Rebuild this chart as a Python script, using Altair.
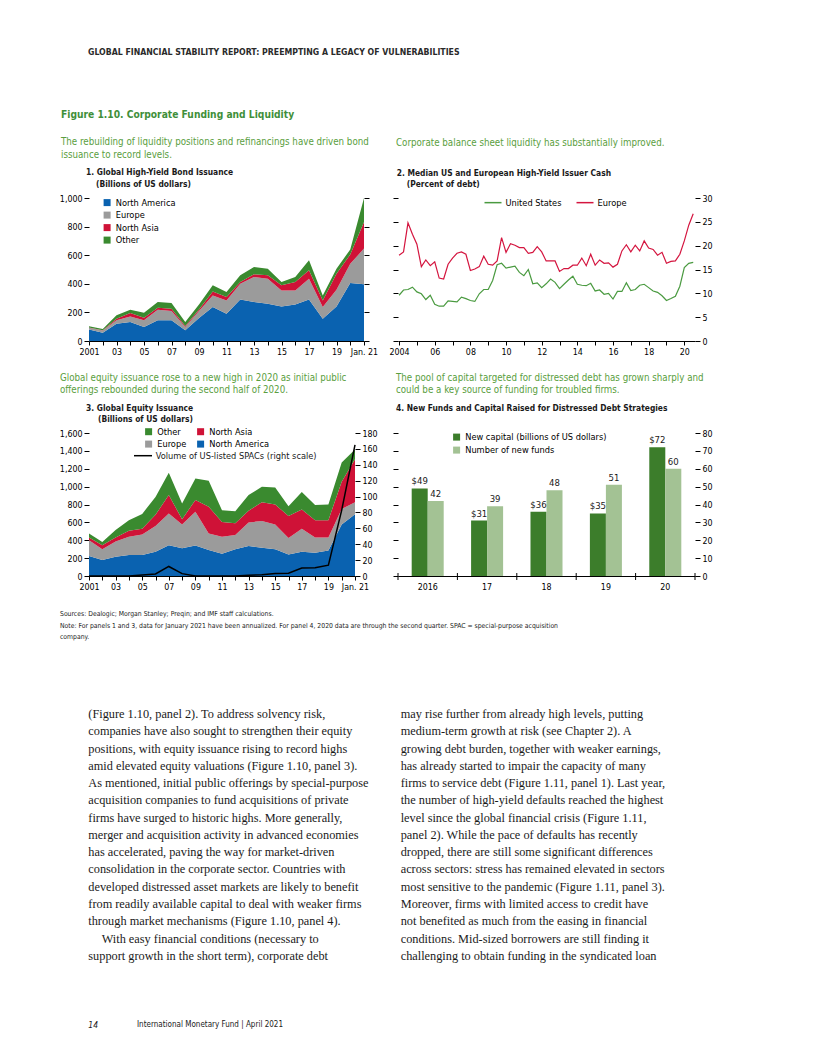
import altair as alt
import pandas as pd

SANS = "DejaVu Sans Condensed, Liberation Sans Narrow, sans-serif"
SERIF = "Liberation Serif, Times New Roman, serif"
GREEN_T = "#3f8f3a"
GREEN_S = "#5a9e40"
INK = "#1a1a1a"

# ---------------- Panel 1: Global High-Yield Bond Issuance ----------------
p1_years = list(range(2001, 2022))
p1_tick_labels = ["2001", "", "03", "", "05", "", "07", "", "09", "", "11", "", "13", "", "15", "", "17", "", "19", "", "Jan. 21"]
p1_regions = ["North America", "Europe", "North Asia", "Other"]
p1_colors = ["#0a62b0", "#9b9b9b", "#cf1237", "#3a8a2f"]
p1_na = [80, 58, 121, 133, 98, 145, 145, 75, 160, 238, 191, 291, 273, 261, 242, 256, 291, 156, 242, 405, 396]
p1_eu = [12, 15, 24, 39, 47, 74, 65, 23, 50, 81, 93, 110, 175, 175, 112, 98, 145, 82, 117, 135, 250]
p1_as = [3, 3, 11, 24, 18, 14, 16, 7, 10, 28, 24, 12, 18, 23, 35, 59, 58, 46, 112, 65, 186]
p1_ot = [8, 8, 24, 23, 35, 40, 40, 28, 35, 42, 35, 46, 51, 47, 24, 35, 70, 35, 35, 35, 168]

# ---------------- Panel 2: Median HY issuer cash (quarterly) ----------------
p2_tick_years = list(range(2004, 2021))
p2_tick_labels = ["2004", "", "06", "", "08", "", "10", "", "12", "", "14", "", "16", "", "18", "", "20"]
p2_series = ["United States", "Europe"]
p2_colors = ["#4a9a40", "#d4153f"]
p2_us = [9.6, 10.7, 10.8, 11.3, 10.3, 9.9, 8.7, 9.6, 7.7, 7.3, 7.3, 8.4, 8.3, 8.2, 9.2, 8.9,
         8.5, 8.3, 9.9, 10.8, 10.8, 12.7, 16.0, 16.3, 15.3, 15.5, 15.7, 14.4, 13.7, 15.0, 12.0, 12.2,
         11.2, 12.0, 13.0, 12.3, 11.0, 11.9, 12.8, 13.6, 11.9, 11.7, 11.6, 12.1, 10.5, 10.7, 9.8, 10.0,
         8.8, 10.4, 10.4, 12.2, 10.6, 10.8, 11.7, 11.9, 11.2, 10.5, 10.2, 9.5, 8.5, 8.9, 9.4, 11.5,
         15.4, 16.3, 16.5]
p2_eu = [18.0, 18.7, 24.8, 22.4, 20.3, 15.6, 17.0, 15.8, 16.6, 13.2, 13.0, 16.1, 17.4, 18.4, 18.7, 18.2,
         14.8, 15.1, 15.6, 17.8, 16.1, 15.9, 16.8, 21.7, 18.6, 20.4, 20.1, 19.6, 19.6, 18.4, 18.6, 19.8,
         18.7, 16.8, 16.8, 16.8, 14.6, 15.2, 15.2, 15.9, 15.9, 17.4, 15.8, 18.2, 15.9, 17.0, 16.3, 16.4,
         15.5, 16.1, 18.9, 20.2, 18.7, 20.1, 18.9, 21.0, 19.5, 19.2, 18.0, 18.6, 16.3, 16.7, 16.8, 18.2,
         21.0, 24.3, 26.7]
p2_time = [2004 + i / 4 for i in range(len(p2_us))]

# ---------------- Panel 3: Global Equity Issuance ----------------
# legend is filled column by column: (Other, Europe) | (North Asia, North America)
p3_regions = ["Other", "Europe", "North Asia", "North America"]
p3_colors = ["#3a8a2f", "#9b9b9b", "#cf1237", "#0a62b0"]
p3_na = [225, 180, 215, 235, 235, 270, 345, 310, 340, 290, 250, 300, 335, 315, 300, 240, 270, 260, 285, 575, 690]
p3_eu = [175, 120, 170, 205, 230, 290, 355, 265, 380, 185, 190, 160, 265, 300, 275, 185, 260, 170, 145, 175, 135]
p3_as = [30, 45, 45, 65, 65, 125, 205, 60, 130, 300, 165, 130, 130, 210, 225, 245, 215, 195, 195, 305, 480]
p3_ot = [45, 35, 85, 120, 165, 200, 250, 175, 240, 290, 130, 135, 175, 175, 190, 110, 195, 170, 175, 215, 110]
p3_spac = [0, 0, 0, 0, 1.3, 2.5, 12, 3, 0, 0, 0, 0, 1, 1.5, 3, 3.5, 10, 10.5, 13.6, 83, 165]

# ---------------- Panel 4: Distressed debt funds ----------------
p4_years = ["2016", "17", "18", "19", "20"]
p4_series = ["New capital (billions of US dollars)", "Number of new funds"]
p4_colors = ["#3c7d2b", "#a3c294"]
p4_capital = [49, 31, 36, 35, 72]
p4_funds = [42, 39, 48, 51, 60]

# ---------------- Page text ----------------
header_text = "GLOBAL FINANCIAL STABILITY REPORT: PREEMPTING A LEGACY OF VULNERABILITIES"
fig_title = "Figure 1.10. Corporate Funding and Liquidity"
sub1 = ["The rebuilding of liquidity positions and refinancings have driven bond", "issuance to record levels."]
sub2 = ["Corporate balance sheet liquidity has substantially improved."]
sub3 = ["Global equity issuance rose to a new high in 2020 as initial public", "offerings rebounded during the second half of 2020."]
sub4 = ["The pool of capital targeted for distressed debt has grown sharply and", "could be a key source of funding for troubled firms."]
head1 = ["1. Global High-Yield Bond Issuance", "(Billions of US dollars)"]
head2 = ["2. Median US and European High-Yield Issuer Cash", "(Percent of debt)"]
head3 = ["3. Global Equity Issuance", "(Billions of US dollars)"]
head4 = ["4. New Funds and Capital Raised for Distressed Debt Strategies"]
spac_label = "Volume of US-listed SPACs (right scale)"
sources = "Sources: Dealogic; Morgan Stanley; Preqin; and IMF staff calculations."
note = ["Note: For panels 1 and 3, data for January 2021 have been annualized. For panel 4, 2020 data are through the second quarter. SPAC = special-purpose acquisition",
        "company."]
body1 = [
    "(Figure 1.10, panel 2). To address solvency risk,",
    "companies have also sought to strengthen their equity",
    "positions, with equity issuance rising to record highs",
    "amid elevated equity valuations (Figure 1.10, panel 3).",
    "As mentioned, initial public offerings by special-purpose",
    "acquisition companies to fund acquisitions of private",
    "firms have surged to historic highs. More generally,",
    "merger and acquisition activity in advanced economies",
    "has accelerated, paving the way for market-driven",
    "consolidation in the corporate sector. Countries with",
    "developed distressed asset markets are likely to benefit",
    "from readily available capital to deal with weaker firms",
    "through market mechanisms (Figure 1.10, panel 4).",
    "With easy financial conditions (necessary to",
    "support growth in the short term), corporate debt",
]
body2 = [
    "may rise further from already high levels, putting",
    "medium-term growth at risk (see Chapter 2). A",
    "growing debt burden, together with weaker earnings,",
    "has already started to impair the capacity of many",
    "firms to service debt (Figure 1.11, panel 1). Last year,",
    "the number of high-yield defaults reached the highest",
    "level since the global financial crisis (Figure 1.11,",
    "panel 2). While the pace of defaults has recently",
    "dropped, there are still some significant differences",
    "across sectors: stress has remained elevated in sectors",
    "most sensitive to the pandemic (Figure 1.11, panel 3).",
    "Moreover, firms with limited access to credit have",
    "not benefited as much from the easing in financial",
    "conditions. Mid-sized borrowers are still finding it",
    "challenging to obtain funding in the syndicated loan",
]
footer_page = "14"
footer_text = "International Monetary Fund | April 2021"

dummy = alt.Data(values=[{"a": 1}])

AX_FS = 8.8
LEG_FS = 9.2

# column widths of the page grid (chart pixels)
C1, C2, C3, C4 = 81, 275, 34, 297


def txt(s, x, y, size=10.0, bold=False, color=INK, font=SANS, italic=False):
    kw = dict(text=s, fontSize=size, font=font, color=color, align="left", baseline="middle")
    if bold:
        kw["fontWeight"] = "bold"
    if italic:
        kw["fontStyle"] = "italic"
    return alt.Chart(dummy).mark_text(**kw).encode(x=alt.value(x), y=alt.value(y))


def spacer(w, h):
    return alt.Chart(dummy).mark_point(opacity=0, size=1).encode(
        x=alt.value(5), y=alt.value(5)).properties(width=w, height=h)


def label_expr(vals, labels):
    e = "''"
    for v, l in reversed(list(zip(vals, labels))):
        e = f"datum.value == {v} ? '{l}' : ({e})"
    return e


def yaxis(values, orient, labels=True, fmt=None):
    kw = dict(values=values, orient=orient, labels=labels, title=None, grid=False, domain=False,
              tickSize=5, labelPadding=2)
    if fmt:
        kw["format"] = fmt
    return alt.Axis(**kw)


def xaxis_years(vals, labels):
    return alt.Axis(values=vals, labelExpr=label_expr(vals, labels), title=None, grid=False, tickSize=4,
                    labelPadding=2, labelFlush=False, labelOverlap=False, labelAngle=0)


def sq_legend(x, y, **extra):
    return alt.Legend(orient="none", legendX=x, legendY=y, title=None, symbolType="square",
                      symbolSize=49, symbolStrokeWidth=0, labelOffset=4, labelFontSize=LEG_FS,
                      padding=0, **extra)


# ---------------- Build panel 1 ----------------
rows = []
for reg, vals, o in zip(p1_regions, [p1_na, p1_eu, p1_as, p1_ot], range(4)):
    for yr, v in zip(p1_years, vals):
        rows.append({"year": yr, "region": reg, "value": v, "ord": o})
p1_df = pd.DataFrame(rows)
x1 = alt.X("year:Q", scale=alt.Scale(domain=[2001, 2021], nice=False, zero=False),
           axis=xaxis_years(p1_years, p1_tick_labels))
area1 = alt.Chart(p1_df).mark_area(opacity=1).encode(
    x=x1,
    y=alt.Y("value:Q", stack="zero", scale=alt.Scale(domain=[0, 1000], nice=False),
            axis=yaxis(list(range(0, 1001, 200)), "left", fmt=",.0f")),
    color=alt.Color("region:N", scale=alt.Scale(domain=p1_regions, range=p1_colors),
                    legend=sq_legend(13.5, 0, rowPadding=2.5)),
    order=alt.Order("ord:Q", sort="ascending"),
)
right1 = alt.Chart(p1_df).mark_point(opacity=0).encode(
    x=x1,
    y=alt.Y("value:Q", scale=alt.Scale(domain=[0, 1000], nice=False),
            axis=yaxis(list(range(0, 1001, 200)), "right", labels=False)),
)
panel1 = alt.layer(area1, right1).resolve_scale(y="independent").properties(width=275, height=143)

# ---------------- Build panel 2 ----------------
rows = []
for s, vals in zip(p2_series, [p2_us, p2_eu]):
    for t, v in zip(p2_time, vals):
        rows.append({"t": t, "series": s, "value": v})
p2_df = pd.DataFrame(rows)
x2 = alt.X("t:Q", scale=alt.Scale(domain=[2003.94, 2020.6], nice=False, zero=False),
           axis=xaxis_years(p2_tick_years, p2_tick_labels))
line2 = alt.Chart(p2_df).mark_line(strokeWidth=1.2).encode(
    x=x2,
    y=alt.Y("value:Q", scale=alt.Scale(domain=[0, 30], nice=False),
            axis=yaxis(list(range(0, 31, 5)), "right")),
    color=alt.Color("series:N", scale=alt.Scale(domain=p2_series, range=p2_colors),
                    legend=alt.Legend(orient="none", legendX=85.5, legendY=-5, title=None, direction="horizontal",
                                      symbolType="stroke", symbolSize=289, symbolStrokeWidth=1.5,
                                      columnPadding=12, labelOffset=3, labelFontSize=LEG_FS, padding=0)),
)
left2 = alt.Chart(p2_df).mark_point(opacity=0).encode(
    x=x2,
    y=alt.Y("value:Q", scale=alt.Scale(domain=[0, 30], nice=False),
            axis=yaxis(list(range(0, 31, 5)), "left", labels=False)),
)
panel2 = alt.layer(line2, left2).resolve_scale(y="independent").properties(width=C4, height=143)

# ---------------- Build panel 3 ----------------
rows = []
stack_order = ["North America", "Europe", "North Asia", "Other"]
for reg, vals in zip(stack_order, [p3_na, p3_eu, p3_as, p3_ot]):
    for yr, v in zip(p1_years, vals):
        rows.append({"year": yr, "region": reg, "value": v, "ord": stack_order.index(reg)})
p3_df = pd.DataFrame(rows)
p3_spac_df = pd.DataFrame({"year": p1_years, "spac": p3_spac})
x3 = alt.X("year:Q", scale=alt.Scale(domain=[2001, 2021], nice=False, zero=False),
           axis=xaxis_years(p1_years, p1_tick_labels))
area3 = alt.Chart(p3_df).mark_area(opacity=1).encode(
    x=x3,
    y=alt.Y("value:Q", stack="zero", scale=alt.Scale(domain=[0, 1600], nice=False),
            axis=yaxis(list(range(0, 1601, 200)), "left", fmt=",.0f")),
    color=alt.Color("region:N", scale=alt.Scale(domain=p3_regions, range=p3_colors),
                    legend=sq_legend(55, -6, columns=2, columnPadding=9, rowPadding=2.5)),
    order=alt.Order("ord:Q", sort="ascending"),
)
line3 = alt.Chart(p3_spac_df).mark_line(color="#000000", strokeWidth=1.5).encode(
    x=x3,
    y=alt.Y("spac:Q", scale=alt.Scale(domain=[0, 180], nice=False),
            axis=yaxis(list(range(0, 181, 20)), "right")),
)
leg3_line = alt.Chart(dummy).mark_rule(color="#000000", strokeWidth=1.5).encode(
    x=alt.value(45), x2=alt.value(63), y=alt.value(22.7))
leg3_text = txt(spac_label, 66.7, 22.7, size=LEG_FS)
panel3 = alt.layer(area3, line3, leg3_line, leg3_text).resolve_scale(y="independent").properties(width=266, height=143)

# ---------------- Build panel 4 ----------------
rows = []
for s, vals in zip(p4_series, [p4_capital, p4_funds]):
    for yr, v in zip(p4_years, vals):
        lab = f"${v}" if s == p4_series[0] else f"{v}"
        rows.append({"year": yr, "series": s, "value": v, "label": lab})
p4_df = pd.DataFrame(rows)
P4_PI = 0.461
x4_scale = alt.Scale(paddingInner=P4_PI, paddingOuter=P4_PI / 2)
x4_axis = alt.Axis(title=None, labelAngle=0, ticks=False, labelPadding=6, grid=False)
x4 = alt.X("year:N", sort=p4_years, scale=x4_scale, axis=x4_axis)
xo4 = alt.XOffset("series:N", sort=p4_series, scale=alt.Scale(paddingInner=0, paddingOuter=0))
y4 = alt.Y("value:Q", scale=alt.Scale(domain=[0, 80], nice=False),
           axis=yaxis(list(range(0, 81, 10)), "left", labels=False))
bars4 = alt.Chart(p4_df).mark_bar().encode(
    x=x4, xOffset=xo4, y=y4,
    color=alt.Color("series:N", scale=alt.Scale(domain=p4_series, range=p4_colors),
                    legend=sq_legend(54, -0.5, rowPadding=3)),
)
labels4 = alt.Chart(p4_df).mark_text(dy=-7, fontSize=9.5, color=INK).encode(
    x=x4, xOffset=xo4,
    y=alt.Y("value:Q", scale=alt.Scale(domain=[0, 80], nice=False), axis=None),
    text="label:N",
)
# category-boundary ticks crossing the x axis (half the inner padding outside each band)
half_gap = C4 / len(p4_years) * P4_PI / 2
first_series = p4_df[p4_df["series"] == p4_series[0]]
bticks4 = alt.Chart(first_series).mark_rule(color="#000000", strokeWidth=1, xOffset=-half_gap).encode(
    x=alt.X("year:N", sort=p4_years, scale=x4_scale, bandPosition=0, axis=x4_axis),
    y=alt.value(140), y2=alt.value(147),
)
eticks4 = alt.Chart(first_series[first_series["year"] == p4_years[-1]]).mark_rule(
    color="#000000", strokeWidth=1, xOffset=half_gap).encode(
    x=alt.X("year:N", sort=p4_years, scale=x4_scale, bandPosition=1, axis=x4_axis),
    y=alt.value(140), y2=alt.value(147),
)
right4 = alt.Chart(p4_df).mark_point(opacity=0).encode(
    x=x4,
    y=alt.Y("value:Q", scale=alt.Scale(domain=[0, 80], nice=False),
            axis=yaxis(list(range(0, 81, 10)), "right")),
)
panel4 = alt.layer(bars4, labels4, bticks4, eticks4, right4).resolve_scale(y="independent").properties(
    width=C4, height=143)

# ---------------- Text cells ----------------
SUB_FS = 9.7
HEAD_FS = 8.4
top = alt.layer(
    txt(header_text, 80, 44, size=8.7, bold=True, color="#2a2a2a"),
    txt(fig_title, 53, 107, size=10.2, bold=True, color=GREEN_T),
    txt(sub1[0], 53, 134.3, size=SUB_FS, color=GREEN_S),
    txt(sub1[1], 53, 146.5, size=SUB_FS, color=GREEN_S),
    txt(sub2[0], 388, 134.7, size=SUB_FS, color=GREEN_S),
    txt(head1[0], 78, 164.3, size=HEAD_FS, bold=True),
    txt(head1[1], 88, 176.3, size=HEAD_FS, bold=True),
    txt(head2[0], 388.7, 164.7, size=HEAD_FS, bold=True),
    txt(head2[1], 398.7, 176.3, size=HEAD_FS, bold=True),
).properties(width=C1, height=190)

mid = alt.layer(
    txt(sub3[0], 52, 36.7, size=SUB_FS, color=GREEN_S),
    txt(sub3[1], 52, 48.5, size=SUB_FS, color=GREEN_S),
    txt(sub4[0], 388, 36.7, size=SUB_FS, color=GREEN_S),
    txt(sub4[1], 388, 48.5, size=SUB_FS, color=GREEN_S),
    txt(head3[0], 78, 66.7, size=HEAD_FS, bold=True),
    txt(head3[1], 90, 78.3, size=HEAD_FS, bold=True),
    txt(head4[0], 388, 66.7, size=HEAD_FS, bold=True),
).properties(width=C1, height=92)

LH = 17.27
bottom_layers = [
    txt(sources, 52, 38, size=6.8),
    txt(note[0], 52, 49.7, size=6.8),
    txt(note[1], 52, 61.3, size=6.8),
]
for i, line in enumerate(body1):
    indent = 13.4 if i == 13 else 0
    bottom_layers.append(txt(line, 80.3 + indent, 138 + i * LH, size=12.3, font=SERIF))
for i, line in enumerate(body2):
    bottom_layers.append(txt(line, 392.7, 138 + i * LH, size=12.3, font=SERIF))
bottom_layers.append(txt(footer_page, 80.3, 449, size=8.5, italic=True))
bottom_layers.append(txt(footer_text, 129, 449, size=8.0))
bottom = alt.layer(*bottom_layers).properties(width=C1, height=472)

cells = [
    top, spacer(C2, 190), spacer(C3, 190), spacer(C4, 190),
    spacer(C1, 143), panel1, spacer(C3, 143), panel2,
    mid, spacer(C2, 92), spacer(C3, 92), spacer(C4, 92),
    spacer(C1, 143), panel3, spacer(C3, 143), panel4,
    bottom, spacer(C2, 472), spacer(C3, 472), spacer(C4, 472),
]

chart = alt.concat(*cells, columns=4, spacing=0, bounds="flush", align="none", padding=0,
                   background="#ffffff").resolve_scale(
    x="independent", y="independent", color="independent").resolve_legend(color="independent").configure(
    font=SANS).configure_view(strokeWidth=0).configure_axis(
    labelFont=SANS, labelFontSize=AX_FS, labelColor="#000000", tickColor="#000000", domainColor="#000000",
    tickWidth=1, domainWidth=1, grid=False).configure_legend(
    labelFont=SANS, labelColor="#000000")

chart.save("out.html", embed_options={"renderer": "svg", "actions": False})
